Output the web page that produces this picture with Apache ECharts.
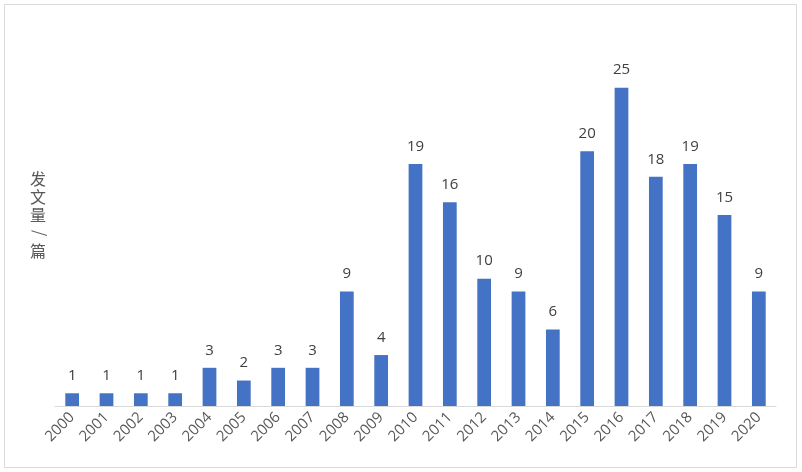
<!DOCTYPE html>
<html><head><meta charset="utf-8">
<script src="https://cdn.jsdelivr.net/npm/echarts@6/dist/echarts.min.js"></script>
<style>html,body{margin:0;padding:0;background:#fff}#c{width:802px;height:472px}</style>
</head><body><div id="c"></div>
<script>
const years = ['2000','2001','2002','2003','2004','2005','2006','2007','2008','2009','2010','2011','2012','2013','2014','2015','2016','2017','2018','2019','2020'];
const counts = [1,1,1,1,3,2,3,3,9,4,19,16,10,9,6,20,25,18,19,15,9];
const axisName = ['发','文','量','/','篇'];

const chart = echarts.init(document.getElementById('c'));
const font = '"Noto Sans CJK SC", "Noto Sans", sans-serif';
const nameEls = axisName.map((ch, i) => ({
  type: 'group',
  x: 38, y: 179 + i * 18,
  rotation: ch === '/' ? Math.PI / 2 : 0,
  children: [{
    type: 'text', x: 0, y: 0,
    style: { text: ch, fill: '#595959', font: '16px ' + font, align: 'center', verticalAlign: 'middle' }
  }]
}));
chart.setOption({
  animation: false,
  textStyle: { fontFamily: font },
  grid: { left: 55, right: 26, top: 24, bottom: 66, containLabel: false },
  xAxis: {
    type: 'category', data: years,
    axisLine: { lineStyle: { color: '#d9d9d9', width: 1 } },
    axisTick: { show: false },
    axisLabel: { rotate: 45, color: '#595959', fontSize: 15, margin: 9, interval: 0, fontFamily: '"Open Sans", "Noto Sans", sans-serif' }
  },
  yAxis: {
    type: 'value', min: 0, max: 30, interval: 5,
    axisLine: { show: false }, axisTick: { show: false },
    axisLabel: { show: false }, splitLine: { show: false }
  },
  series: [{
    type: 'bar', data: counts, barWidth: '40%',
    itemStyle: { color: '#4472c4' },
    label: { show: true, position: 'top', distance: 10, color: '#404040', fontSize: 15, fontFamily: '"Open Sans", "Noto Sans", sans-serif' }
  }],
  graphic: [
    { type: 'rect', shape: { x: 4.5, y: 4.5, width: 792, height: 463 },
      style: { fill: 'none', stroke: '#d9d9d9', lineWidth: 1 }, silent: true },
    ...nameEls
  ]
});
</script></body></html>
